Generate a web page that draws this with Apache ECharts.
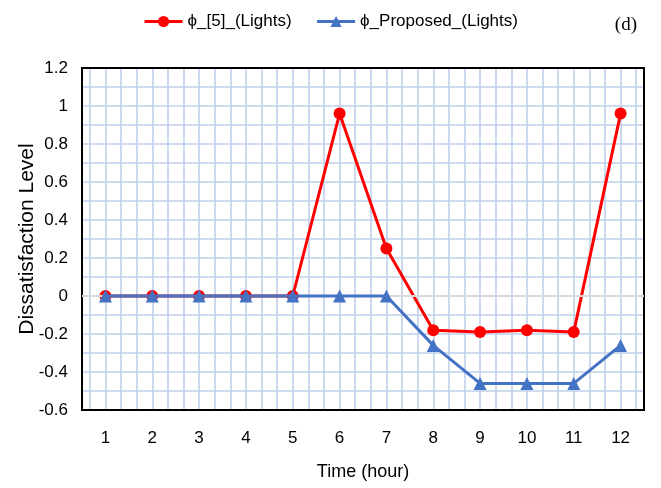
<!DOCTYPE html>
<html>
<head>
<meta charset="utf-8">
<script src="https://cdn.jsdelivr.net/npm/echarts@6/dist/echarts.min.js"></script>
<style>
  html, body { margin: 0; padding: 0; background: #fff; }
  #chart { width: 661px; height: 488px; }
</style>
</head>
<body>
<div id="chart"></div>
<script>
// hours on the x axis
var hours = ['1', '2', '3', '4', '5', '6', '7', '8', '9', '10', '11', '12']
// dissatisfaction levels
var phiRef = [0, 0, 0, 0, 0, 0.96, 0.25, -0.18, -0.19, -0.18, -0.19, 0.96]
var phiProposed = [0, 0, 0, 0, 0, 0, 0, -0.26, -0.46, -0.46, -0.46, -0.26]
var seriesNames = ['ϕ_[5]_(Lights)', 'ϕ_Proposed_(Lights)']

var font = 'Liberation Sans'
var gridBlue = '#bfd0ea'

// helper axis for the light vertical grid: one slot per 1/6 of an hour
var gridSlots = []
for (var i = 0; i <= hours.length * 6; i++) {
  gridSlots.push(String(i))
}

var chart = echarts.init(document.getElementById('chart'))
chart.setOption({
  animation: false,
  backgroundColor: '#fff',
  title: {
    text: '(d)',
    right: 19,
    top: 11,
    textStyle: { fontFamily: 'Liberation Serif', fontSize: 19, fontWeight: 'normal', color: '#000' }
  },
  legend: {
    data: seriesNames,
    left: 'center',
    top: 8,
    itemWidth: 38,
    itemHeight: 14,
    itemGap: 24,
    lineStyle: { width: 3 },
    textStyle: { fontFamily: font, fontSize: 17, color: '#000' }
  },
  grid: {
    left: 82,
    right: 17,
    top: 68,
    bottom: 78,
    show: true,
    borderColor: '#000',
    borderWidth: 2,
    z: 3
  },
  xAxis: [
    {
      type: 'category',
      data: hours,
      boundaryGap: true,
      axisLine: { show: true, lineStyle: { color: '#000', width: 2 } },
      axisTick: { show: false },
      axisLabel: { fontFamily: font, fontSize: 17, color: '#000', margin: 20 },
      splitLine: { show: false },
      name: 'Time (hour)',
      nameLocation: 'middle',
      nameGap: 53,
      nameMoveOverlap: false,
      nameTextStyle: { fontFamily: font, fontSize: 18, color: '#000' }
    },
    {
      type: 'category',
      data: gridSlots,
      boundaryGap: false,
      position: 'bottom',
      axisLine: { show: false },
      axisTick: { show: false },
      axisLabel: { show: false },
      splitLine: {
        show: true,
        interval: function (index) {
          return index % 2 === 1
        },
        lineStyle: { color: gridBlue, width: 1.6 }
      }
    }
  ],
  yAxis: {
    type: 'value',
    min: -0.6,
    max: 1.2,
    interval: 0.2,
    axisLine: { show: true, lineStyle: { color: '#000', width: 2 } },
    axisTick: { show: false },
    axisLabel: {
      fontFamily: font,
      fontSize: 17,
      color: '#000',
      margin: 14,
      formatter: function (v) {
        return String(Math.round(v * 10) / 10)
      }
    },
    splitLine: { show: true, lineStyle: { color: gridBlue, width: 1.6 } },
    minorTick: { show: false, splitNumber: 2 },
    minorSplitLine: { show: true, lineStyle: { color: gridBlue, width: 1.6 } },
    name: 'Dissatisfaction Level',
    nameLocation: 'middle',
    nameGap: 44,
    nameMoveOverlap: false,
    nameTextStyle: { fontFamily: font, fontSize: 21, color: '#000' }
  },
  series: [
    {
      name: seriesNames[0],
      type: 'line',
      data: phiRef,
      symbol: 'circle',
      symbolSize: 12,
      lineStyle: { color: '#ff0000', width: 3 },
      itemStyle: { color: '#ff0000' },
      markLine: {
        silent: true,
        symbol: 'none',
        label: { show: false },
        lineStyle: { color: '#d9d9d9', width: 2, type: 'solid' },
        data: [{ yAxis: 0 }]
      },
      z: 4
    },
    {
      name: seriesNames[1],
      type: 'line',
      data: phiProposed,
      symbol: 'triangle',
      symbolSize: 13,
      lineStyle: { color: '#4472c4', width: 3 },
      itemStyle: { color: '#4472c4' },
      z: 5
    }
  ]
})
</script>
</body>
</html>
